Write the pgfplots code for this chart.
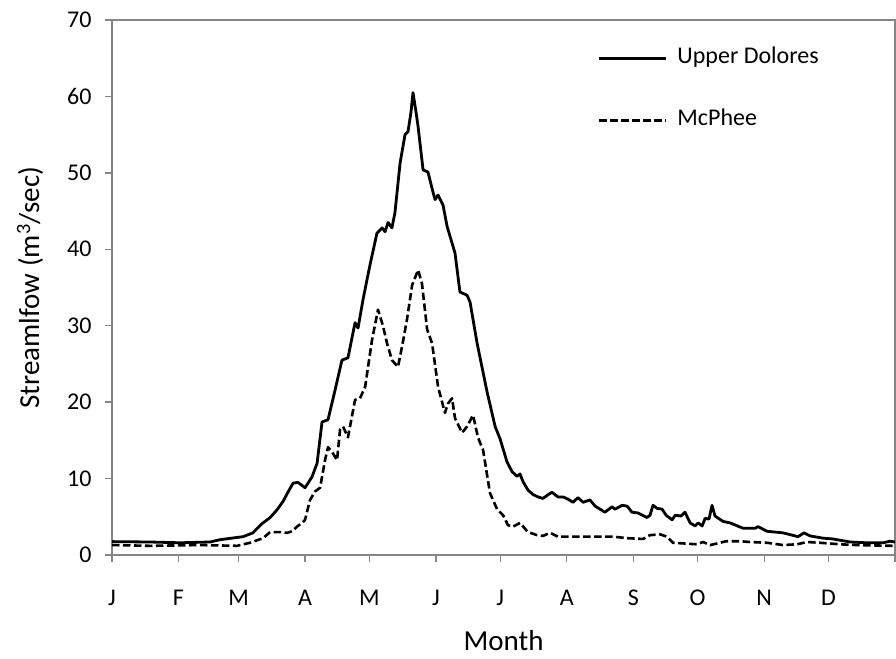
\documentclass[border=0pt]{standalone}
\usepackage{fontspec}
\setmainfont{Carlito}
\usepackage{pgfplots}
\pgfplotsset{compat=1.18}
\definecolor{axgray}{RGB}{134,134,134}
\begin{document}
\begin{tikzpicture}
\path[use as bounding box] (-112pt,-103pt) rectangle (784pt,555pt);
\begin{axis}[
 at={(0pt,0pt)}, anchor=south west,
 scale only axis, width=783pt, height=535pt,
 xmin=0, xmax=365, ymin=0, ymax=70,
 xtick={0,31,59,90,120,151,181,212,243,273,304,334,365},
 xticklabels={J,F,M,A,M,J,J,A,S,O,N,D,{}},
 ytick={0,10,...,70},
 tick align=outside, tick pos=left,
 major tick length=7pt,
 axis line style={axgray, line width=1.3pt},
 every tick/.style={axgray, line width=1.3pt},
 every tick label/.append style={font=\fontsize{24}{28}\selectfont, text=black},
 /pgf/number format/assume math mode=true,
 xticklabel style={yshift=-24pt, text height=16pt, text depth=5pt},
 yticklabel style={xshift=-10pt},
 xlabel={Month}, ylabel={Streamlfow (m\textsuperscript{3}/sec)},
 label style={font=\fontsize{29}{33}\selectfont},
 xlabel style={at={(axis description cs:0.5,-0.159)}, anchor=center},
 ylabel style={at={(axis description cs:-0.1047,0.5)}, anchor=center},
 legend style={draw=none, fill=none, at={(axis description cs:0.62,0.952)}, anchor=north west,
   font=\fontsize{24}{28}\selectfont, row sep=37pt, inner sep=0pt,
   nodes={inner sep=2pt, text height=16pt, text depth=5pt}},
 legend cell align=left,
 legend image code/.code={\draw[#1] (0pt,0pt) -- (67pt,0pt); \path (75pt,0pt);},
]
\addplot[black, line width=2.8pt, line join=round] coordinates {
(0,1.75) (17.7,1.7) (31.7,1.6) (45.7,1.7) (50.3,2.0) (61.1,2.4) (65.7,2.9) (69.9,4.1)
(73.7,4.9) (76.9,5.9) (79.7,7.0) (82,8.2) (84.4,9.4) (86.7,9.5) (90,8.8) (93.2,10.2)
(95.6,12) (97.9,17.4) (100.7,17.7) (104,21.6) (107.2,25.5) (110,25.8) (113.3,30.4)
(114.7,29.7) (117,33.4) (120.3,38) (123.5,42.1) (125.9,42.8) (127.3,42.3) (128.7,43.5)
(130.5,42.8) (131.9,44.8) (134.3,51.3) (136.6,55) (138,55.4) (139.4,58) (140.3,60.5)
(141.7,58) (142.7,56) (145,50.4) (147.3,50.1) (149.7,47.4) (150.6,46.5) (152,47.1)
(154.3,45.8) (156.2,43) (159.9,39.5) (162.2,34.4) (165.5,34) (166.9,33.1) (170.2,27.7)
(174.8,21.4) (178.6,16.8) (180.9,15.2) (184.1,12.2) (186.5,10.9) (188.8,10.3) (190.2,10.6)
(191.6,9.6) (193.9,8.5) (196.3,7.9) (198.6,7.6) (200.9,7.4) (203.3,7.9) (205.1,8.2)
(207.9,7.6) (210.3,7.6) (212.6,7.3) (214.9,6.9) (217.2,7.5) (219.6,6.9) (222.8,7.2)
(225.2,6.4) (227.5,6.0) (229.8,5.6) (233.1,6.3) (234.5,6.0) (237.8,6.5) (240.1,6.4)
(242.4,5.6) (245.2,5.5) (249.4,4.9) (250.8,5.2) (252.2,6.5) (254.1,6.1) (256.4,6.0)
(258.3,5.2) (261.1,4.6) (262.5,5.2) (265.3,5.1) (267.1,5.6) (269.5,4.2) (271.8,3.8)
(273.2,4.2) (275.1,3.8) (276.5,4.8) (278.3,4.7) (279.7,6.5) (281.1,5.1) (284.8,4.4)
(288.1,4.2) (294.2,3.5) (299.8,3.5) (301.2,3.7) (305.4,3.1) (312.8,2.9) (319.8,2.4)
(322.6,2.9) (325.4,2.5) (331.5,2.2) (336.1,2.1) (344.1,1.7) (352,1.6) (359.4,1.6)
(362.7,1.8) (365,1.7)
};
\addlegendentry{Upper Dolores}
\addplot[black, line width=2.6pt, dash pattern=on 7.5pt off 3.5pt, line join=round] coordinates {
(0,1.3) (17.7,1.2) (41,1.3) (58.3,1.2) (64.3,1.6) (70.4,2.2) (73.7,3.0) (78.3,3.0)
(81.6,2.9) (83.9,3.1) (86.2,3.7) (88.6,4.2) (90,4.6) (92.3,7.2) (94.6,8.3) (97,8.8)
(99.3,12.4) (100.7,14.1) (102.6,13.5) (104.9,12.4) (106.3,16.4) (107.7,16.8) (110,15.4)
(113.3,20.3) (115.6,20.5) (118,22) (119.3,24.5) (121.2,28.1) (124,32.1) (126.3,30)
(128.2,27.7) (130.5,25.5) (133.3,24.6) (135.7,28) (137.5,30.8) (139.9,35.3) (142.7,37.3)
(144.5,35.5) (146.9,29.5) (149.2,27.7) (152,22) (155.2,18.6) (156.6,19.8) (158.5,20.5)
(159.9,17.9) (163.2,16) (165.5,16.8) (168.3,18.3) (170.6,15.4) (173,13.7) (176.2,8.1)
(179.5,6.0) (182.3,5.2) (184.6,3.9) (186.9,3.7) (190.2,4.2) (193.9,3.0) (198.1,2.6)
(200.9,2.5) (204.2,2.9) (207.9,2.4) (218.2,2.4) (233.6,2.4) (240.1,2.2) (247.6,2.1)
(250.8,2.6) (255.5,2.7) (258.7,2.4) (261.5,1.6) (272.7,1.4) (275.5,1.7) (278.8,1.3)
(282,1.5) (286.2,1.8) (292.8,1.8) (297.4,1.7) (305.4,1.6) (312.8,1.3) (319.3,1.4)
(324,1.7) (330.1,1.6) (339.4,1.4) (347.3,1.3) (364,1.2)
};
\addlegendentry{McPhee}
\end{axis}
\end{tikzpicture}
\end{document}
